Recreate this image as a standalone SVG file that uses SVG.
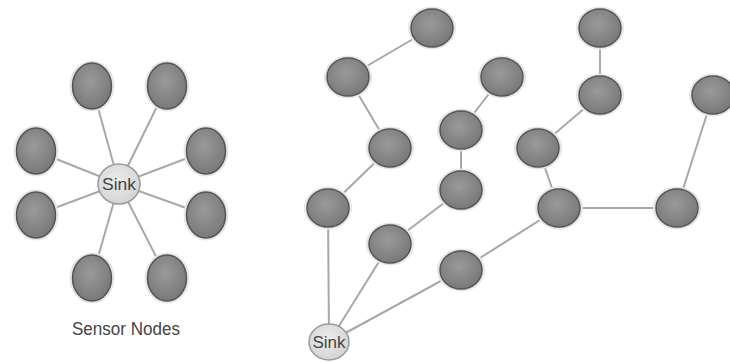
<svg xmlns="http://www.w3.org/2000/svg" width="730" height="362" viewBox="0 0 730 362">
<defs>
<radialGradient id="g" cx="45%" cy="40%" r="65%">
<stop offset="0" stop-color="#9a9a9a"/>
<stop offset="1" stop-color="#767676"/>
</radialGradient>
<radialGradient id="gs" cx="45%" cy="40%" r="65%">
<stop offset="0" stop-color="#ececec"/>
<stop offset="1" stop-color="#d2d2d2"/>
</radialGradient>
</defs>
<style>
.e line{stroke:#a8a8a8;stroke-width:2}
.n{fill:url(#g);stroke:#555;stroke-width:1.5}
.h{fill:none;stroke:#e6e6e6;stroke-width:3}
.s{fill:url(#gs);stroke:#9a9a9a;stroke-width:1.5}
.t{font-family:"Liberation Sans",Arial,sans-serif;fill:#444;text-anchor:middle}
</style>
<rect width="730" height="362" fill="#fff"/>
<g id="connectors" class="e">
<line x1="119" y1="184" x2="92" y2="86"/>
<line x1="119" y1="184" x2="167" y2="86"/>
<line x1="119" y1="184" x2="36" y2="151"/>
<line x1="119" y1="184" x2="206" y2="151"/>
<line x1="119" y1="184" x2="36" y2="215"/>
<line x1="119" y1="184" x2="206" y2="215"/>
<line x1="119" y1="184" x2="92" y2="278"/>
<line x1="119" y1="184" x2="167" y2="278"/>
<line x1="432" y1="28" x2="348" y2="77"/>
<line x1="348" y1="77" x2="390" y2="148"/>
<line x1="390" y1="148" x2="328" y2="208"/>
<line x1="328" y1="208" x2="329" y2="342"/>
<line x1="502" y1="77" x2="461" y2="130"/>
<line x1="461" y1="130" x2="461" y2="190"/>
<line x1="461" y1="190" x2="390" y2="244"/>
<line x1="390" y1="244" x2="329" y2="342"/>
<line x1="461" y1="270" x2="329" y2="342"/>
<line x1="461" y1="270" x2="559" y2="208"/>
<line x1="559" y1="208" x2="538" y2="148"/>
<line x1="538" y1="148" x2="600" y2="95"/>
<line x1="600" y1="95" x2="600" y2="28"/>
<line x1="559" y1="208" x2="677" y2="208"/>
<line x1="677" y1="208" x2="713" y2="95"/>
</g>
<g id="star-n1"><ellipse class="h" cx="92" cy="86" rx="21" ry="24"/><ellipse class="n" cx="92" cy="86" rx="19.5" ry="23"/></g>
<g id="star-n2"><ellipse class="h" cx="167" cy="86" rx="21" ry="24"/><ellipse class="n" cx="167" cy="86" rx="19.5" ry="23"/></g>
<g id="star-n3"><ellipse class="h" cx="36" cy="151" rx="21" ry="24"/><ellipse class="n" cx="36" cy="151" rx="19.5" ry="23"/></g>
<g id="star-n4"><ellipse class="h" cx="206" cy="151" rx="21" ry="24"/><ellipse class="n" cx="206" cy="151" rx="19.5" ry="23"/></g>
<g id="star-n5"><ellipse class="h" cx="36" cy="215" rx="21" ry="24"/><ellipse class="n" cx="36" cy="215" rx="19.5" ry="23"/></g>
<g id="star-n6"><ellipse class="h" cx="206" cy="215" rx="21" ry="24"/><ellipse class="n" cx="206" cy="215" rx="19.5" ry="23"/></g>
<g id="star-n7"><ellipse class="h" cx="92" cy="278" rx="21" ry="24"/><ellipse class="n" cx="92" cy="278" rx="19.5" ry="23"/></g>
<g id="star-n8"><ellipse class="h" cx="167" cy="278" rx="21" ry="24"/><ellipse class="n" cx="167" cy="278" rx="19.5" ry="23"/></g>
<g id="star-sink"><ellipse class="s" cx="119" cy="184" rx="21" ry="20"/><text class="t" x="119" y="190" font-size="17" textLength="34" lengthAdjust="spacingAndGlyphs">Sink</text></g>
<text class="t" x="126" y="335" font-size="18" textLength="108" lengthAdjust="spacingAndGlyphs" fill="#555">Sensor Nodes</text>
<g id="tree-n1"><ellipse class="h" cx="432" cy="28" rx="22.5" ry="20"/><ellipse class="n" cx="432" cy="28" rx="21" ry="19"/></g>
<g id="tree-n2"><ellipse class="h" cx="348" cy="77" rx="22.5" ry="20"/><ellipse class="n" cx="348" cy="77" rx="21" ry="19"/></g>
<g id="tree-n3"><ellipse class="h" cx="502" cy="77" rx="22.5" ry="20"/><ellipse class="n" cx="502" cy="77" rx="21" ry="19"/></g>
<g id="tree-n4"><ellipse class="h" cx="390" cy="148" rx="22.5" ry="20"/><ellipse class="n" cx="390" cy="148" rx="21" ry="19"/></g>
<g id="tree-n5"><ellipse class="h" cx="461" cy="130" rx="22.5" ry="20"/><ellipse class="n" cx="461" cy="130" rx="21" ry="19"/></g>
<g id="tree-n6"><ellipse class="h" cx="328" cy="208" rx="22.5" ry="20"/><ellipse class="n" cx="328" cy="208" rx="21" ry="19"/></g>
<g id="tree-n7"><ellipse class="h" cx="461" cy="190" rx="22.5" ry="20"/><ellipse class="n" cx="461" cy="190" rx="21" ry="19"/></g>
<g id="tree-n8"><ellipse class="h" cx="390" cy="244" rx="22.5" ry="20"/><ellipse class="n" cx="390" cy="244" rx="21" ry="19"/></g>
<g id="tree-n9"><ellipse class="h" cx="461" cy="270" rx="22.5" ry="20"/><ellipse class="n" cx="461" cy="270" rx="21" ry="19"/></g>
<g id="tree-n10"><ellipse class="h" cx="600" cy="28" rx="22.5" ry="20"/><ellipse class="n" cx="600" cy="28" rx="21" ry="19"/></g>
<g id="tree-n11"><ellipse class="h" cx="600" cy="95" rx="22.5" ry="20"/><ellipse class="n" cx="600" cy="95" rx="21" ry="19"/></g>
<g id="tree-n12"><ellipse class="h" cx="538" cy="148" rx="22.5" ry="20"/><ellipse class="n" cx="538" cy="148" rx="21" ry="19"/></g>
<g id="tree-n13"><ellipse class="h" cx="559" cy="208" rx="22.5" ry="20"/><ellipse class="n" cx="559" cy="208" rx="21" ry="19"/></g>
<g id="tree-n14"><ellipse class="h" cx="677" cy="208" rx="22.5" ry="20"/><ellipse class="n" cx="677" cy="208" rx="21" ry="19"/></g>
<g id="tree-n15"><ellipse class="h" cx="713" cy="95" rx="22.5" ry="20"/><ellipse class="n" cx="713" cy="95" rx="21" ry="19"/></g>
<g id="tree-sink"><ellipse class="s" cx="329" cy="342" rx="20" ry="18"/><text class="t" x="329" y="348" font-size="16" textLength="33" lengthAdjust="spacingAndGlyphs">Sink</text></g>
</svg>
